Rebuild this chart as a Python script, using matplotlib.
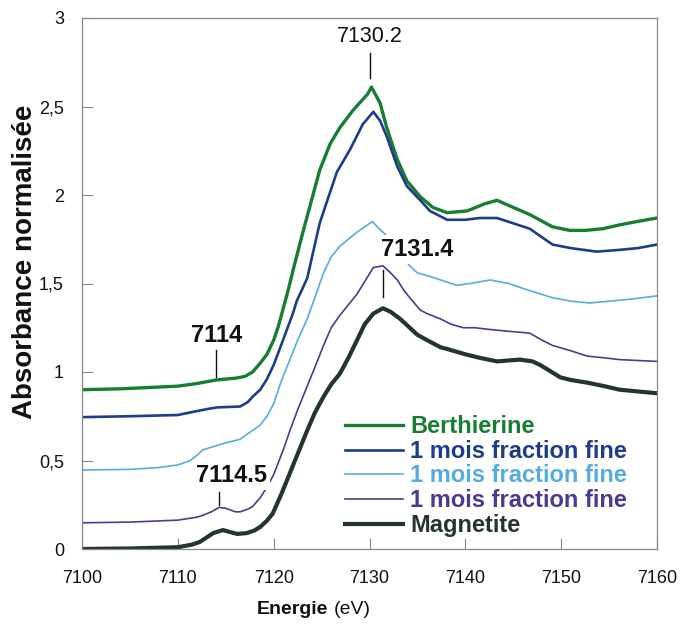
import numpy as np
import matplotlib
matplotlib.use("Agg")
import matplotlib.pyplot as plt
from matplotlib.ticker import FuncFormatter

plt.rcParams['font.family'] = ['Liberation Sans', 'DejaVu Sans']

# Berthierine
e_berth = [7100, 7104, 7108, 7110, 7112, 7113, 7114, 7115, 7116, 7117, 7117.8, 7118.6,
           7119.3, 7120, 7120.5, 7121, 7121.5, 7122, 7123, 7123.8, 7124.8, 7125.9, 7126.9,
           7128.3, 7129.3, 7129.8, 7130.2, 7130.6, 7131.1, 7131.8, 7132.9, 7133.9, 7135.3,
           7136.6, 7138.1, 7140.2, 7142, 7143.3, 7145, 7146.7, 7149.1, 7150.9, 7152.5,
           7154.4, 7156, 7157.9, 7160]
a_berth = [0.90, 0.905, 0.915, 0.92, 0.935, 0.945, 0.955, 0.96, 0.965, 0.975, 1.00, 1.05,
           1.10, 1.18, 1.26, 1.36, 1.46, 1.57, 1.78, 1.94, 2.14, 2.29, 2.38,
           2.48, 2.54, 2.57, 2.61, 2.57, 2.52, 2.38, 2.20, 2.08, 1.99,
           1.93, 1.90, 1.91, 1.95, 1.97, 1.93, 1.89, 1.82, 1.80, 1.80,
           1.81, 1.83, 1.85, 1.87]

# 1 mois fraction fine (dark blue)
e_blue = [7100, 7105, 7110, 7111.6, 7113, 7114.1, 7116.5, 7117.3, 7117.8, 7118.6, 7119.3,
          7120, 7120.7, 7122, 7122.4, 7123.5, 7124.8, 7125.6, 7126.6, 7128, 7129.3, 7130.4,
          7131.1, 7131.8, 7132.9, 7133.9, 7135.3, 7136.3, 7138.1, 7140, 7141.5, 7143.3,
          7145, 7146.7, 7149.1, 7151, 7153.7, 7156.1, 7158, 7160]
a_blue = [0.745, 0.75, 0.757, 0.775, 0.79, 0.80, 0.805, 0.83, 0.86, 0.90, 0.96,
          1.04, 1.14, 1.33, 1.40, 1.53, 1.84, 1.97, 2.13, 2.26, 2.40, 2.47,
          2.42, 2.33, 2.16, 2.05, 1.97, 1.91, 1.86, 1.86, 1.87, 1.87,
          1.84, 1.81, 1.72, 1.70, 1.68, 1.69, 1.70, 1.72]

# 1 mois fraction fine (light blue)
e_light = [7100, 7105, 7108, 7110, 7111.3, 7112, 7112.6, 7114.1, 7115, 7116.5, 7117.8,
           7118.6, 7119.3, 7120, 7120.8, 7121.7, 7122.5, 7123.5, 7124.3, 7125.2, 7126,
           7126.9, 7128, 7128.7, 7129.5, 7130.3, 7131, 7131.6, 7132.5, 7133.3, 7134.2,
           7135, 7136.3, 7137.4, 7139.1, 7140.5, 7142.6, 7144.5, 7146.7, 7149.1, 7151,
           7153, 7155, 7157, 7160]
a_light = [0.446, 0.45, 0.46, 0.475, 0.50, 0.53, 0.56, 0.585, 0.60, 0.62, 0.67,
           0.70, 0.75, 0.82, 0.95, 1.07, 1.18, 1.30, 1.42, 1.56, 1.65,
           1.71, 1.76, 1.79, 1.82, 1.85, 1.81, 1.78, 1.72, 1.66, 1.60,
           1.56, 1.54, 1.52, 1.49, 1.50, 1.52, 1.50, 1.46, 1.42, 1.40,
           1.39, 1.40, 1.41, 1.43]

# 1 mois fraction fine (purple)
e_purple = [7100, 7105, 7110, 7112, 7112.6, 7113.5, 7114.3, 7115, 7116, 7116.5, 7117.3,
            7117.8, 7118.6, 7119.3, 7120, 7121, 7121.7, 7122.6, 7123.5, 7124.4, 7125.2,
            7126, 7126.9, 7127.8, 7128.7, 7129.6, 7130.4, 7131.4, 7132.2, 7132.9, 7133.6,
            7134.5, 7135.3, 7136, 7137.4, 7138.5, 7139.8, 7141, 7142.6, 7144.5, 7146.7,
            7148, 7149.1, 7151, 7152.7, 7154.5, 7156.1, 7158, 7160]
a_purple = [0.148, 0.152, 0.163, 0.18, 0.19, 0.21, 0.235, 0.23, 0.21, 0.21, 0.225,
            0.24, 0.29, 0.35, 0.42, 0.56, 0.67, 0.80, 0.92, 1.04, 1.15,
            1.25, 1.32, 1.38, 1.44, 1.52, 1.59, 1.60, 1.56, 1.52, 1.46,
            1.40, 1.35, 1.33, 1.30, 1.27, 1.25, 1.25, 1.24, 1.23, 1.22,
            1.18, 1.15, 1.12, 1.09, 1.08, 1.07, 1.065, 1.06]

# Magnetite
e_magn = [7100, 7105, 7110, 7111.5, 7112.3, 7113, 7113.7, 7114.7, 7115.5, 7116.2, 7117.2,
          7118, 7118.6, 7119.3, 7119.9, 7120.8, 7121.7, 7122.6, 7123.5, 7124.3, 7125.2,
          7126, 7126.9, 7127.8, 7128.7, 7129.5, 7130.4, 7131.4, 7132.2, 7133.2, 7134,
          7135, 7136, 7137.4, 7138.1, 7140, 7141.5, 7143.3, 7145.7, 7147, 7147.8, 7149,
          7149.9, 7151, 7152.7, 7154.5, 7156.1, 7158, 7160]
a_magn = [0.0, 0.003, 0.01, 0.025, 0.04, 0.065, 0.09, 0.107, 0.095, 0.085, 0.09,
          0.105, 0.125, 0.16, 0.20, 0.31, 0.43, 0.55, 0.67, 0.77, 0.86,
          0.93, 0.99, 1.08, 1.18, 1.27, 1.33, 1.36, 1.34, 1.30, 1.26,
          1.21, 1.18, 1.14, 1.13, 1.10, 1.08, 1.06, 1.07, 1.06, 1.04, 1.00,
          0.97, 0.955, 0.94, 0.92, 0.90, 0.89, 0.88]

labels = ["Berthierine", "1 mois fraction fine", "1 mois fraction fine",
          "1 mois fraction fine", "Magnetite"]
colors = ["#177d33", "#1e3c8c", "#56abe0", "#4a3a94", "#243530"]
widths = [2.4, 1.9, 1.2, 1.2, 3.0]

fig = plt.figure(figsize=(6.81, 6.25), dpi=100)
ax = fig.add_axes([0.1204, 0.1216, 0.8444, 0.8496])

series = [(e_berth, a_berth), (e_blue, a_blue), (e_light, a_light),
          (e_purple, a_purple), (e_magn, a_magn)]
for (e, a), lab, c, w in zip(series, labels, colors, widths):
    ax.plot(e, a, color=c, lw=w, label=lab, solid_joinstyle='round')

ax.set_xlim(7100, 7160)
ax.set_ylim(0, 3)
ax.set_xticks(np.arange(7100, 7161, 10))
ax.set_yticks(np.arange(0, 3.01, 0.5))
ax.yaxis.set_major_formatter(FuncFormatter(lambda v, p: ("%g" % v).replace(".", ",")))
ax.tick_params(direction='in', length=8, width=0.8, color='#888888',
               labelsize=13, labelcolor='#111111')
ax.tick_params(axis='x', pad=15)
ax.tick_params(axis='y', pad=13)
for s in ax.spines.values():
    s.set_color('#888888')
    s.set_linewidth(0.9)

# peak annotations
ax.text(7130.05, 2.895, "7130.2", ha='center', va='center', fontsize=15.5, color='#111111')
ax.plot([7130.05, 7130.05], [2.66, 2.80], color='#111111', lw=1)

ax.text(7131.2, 1.692, "7131.4", ha='left', va='center', fontsize=17, fontweight='bold',
        color='#111111', zorder=5,
        bbox=dict(boxstyle='square,pad=0.12', fc='white', ec='none'))
ax.plot([7131.4, 7131.4], [1.424, 1.576], color='#111111', lw=1, zorder=6)

ax.text(7114.03, 1.206, "7114", ha='center', va='center', fontsize=17, fontweight='bold',
        color='#111111')
ax.plot([7113.95, 7113.95], [0.97, 1.124], color='#111111', lw=1)

ax.text(7115.6, 0.415, "7114.5", ha='center', va='center', fontsize=17, fontweight='bold',
        color='#111111', zorder=5,
        bbox=dict(boxstyle='square,pad=0.12', fc='white', ec='none'))
ax.plot([7114.3, 7114.3], [0.249, 0.322], color='#111111', lw=1)

leg = ax.legend(loc='upper left', bbox_to_anchor=(0.457, 0.252), frameon=False,
                fontsize=17, borderpad=0, borderaxespad=0, handlelength=2.46,
                handletextpad=0.3, labelspacing=0.07)
for t, c in zip(leg.get_texts(), colors):
    t.set_color(c)
    t.set_fontweight('bold')

# axis titles
fig.text(0.036, 0.581, "Absorbance normalisée", rotation=90, ha='center', va='center',
         fontsize=20, fontweight='bold', color='#111111')
t1 = fig.text(257 / 681, 0.024, "Energie", ha='left', va='center', fontsize=14,
              fontweight='bold', color='#111111')
ax.annotate("(eV)", xy=(1, 0), xycoords=t1, xytext=(4, 0), textcoords='offset points',
            ha='left', va='bottom', fontsize=14, color='#111111')

fig.savefig("out.png", dpi=100)
